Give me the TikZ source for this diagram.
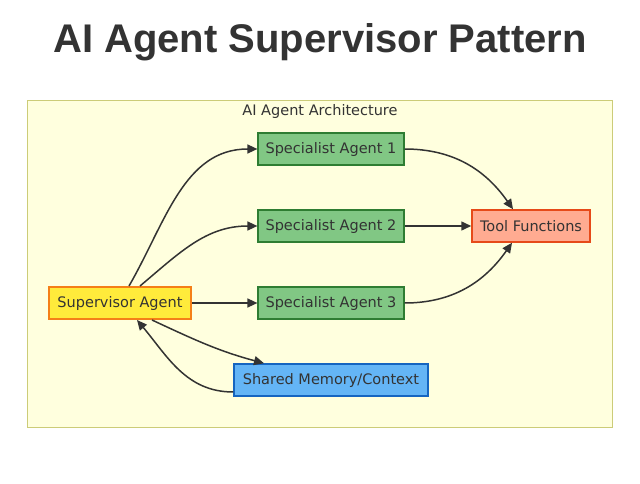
\documentclass[tikz,border=0pt]{standalone}
\usepackage{fontspec}
\usetikzlibrary{arrows.meta}
\usetikzlibrary{math}
\newfontfamily\titlefont{Liberation Sans}
\newfontfamily\boxfont{DejaVu Sans}
\definecolor{mytext}{RGB}{51,51,51}
\definecolor{clusterfill}{RGB}{255,255,222}
\definecolor{clusterline}{RGB}{204,204,120}
\definecolor{specfill}{RGB}{129,199,132}
\definecolor{specline}{RGB}{46,125,50}
\definecolor{toolfill}{RGB}{255,171,145}
\definecolor{toolline}{RGB}{230,74,25}
\definecolor{supfill}{RGB}{255,235,59}
\definecolor{supline}{RGB}{245,127,23}
\definecolor{memfill}{RGB}{100,181,246}
\definecolor{memline}{RGB}{21,101,192}
\tikzset{
  box/.style={draw, line width=1.2, minimum height=32, inner sep=0,
    text=mytext, font=\boxfont\fontsize{14.5}{17}\selectfont},
  spec/.style={box, fill=specfill, draw=specline, minimum width=146},
  link/.style={line width=1.5, -{Triangle[length=10,width=9]}, color=mytext},
}
\begin{document}
\begin{tikzpicture}[x=1pt,y=-1pt]
\tikzmath{
\W=640;
\H=484;
}
\useasboundingbox (0,0) rectangle (\W,\H);
\fill[white] (0,0) rectangle (\W,\H);
%title
\node[text=mytext, font=\titlefont\bfseries\fontsize{40}{46}\selectfont] (title) at (320,42) {AI Agent Supervisor Pattern};
%cluster
\draw[fill=clusterfill, draw=clusterline, line width=1] (27,101) rectangle (612,427);
\node[text=mytext, font=\boxfont\fontsize{14.5}{17}\selectfont] (arch) at (320,112) {AI Agent Architecture};
%nodes
\node[box, fill=supfill, draw=supline, line width=2, minimum width=142] (sup) at (120,303) {Supervisor Agent};
\node[spec] (s1) at (331,149) {Specialist Agent 1};
\node[spec] (s2) at (331,226) {Specialist Agent 2};
\node[spec] (s3) at (331,303) {Specialist Agent 3};
\node[box, fill=toolfill, draw=toolline, line width=1.5, minimum width=118] (tool) at (531,226) {Tool Functions};
\node[box, fill=memfill, draw=memline, line width=1.5, minimum width=194] (mem) at (331,380) {Shared Memory/Context};
%links
\draw[link] ([xshift=9]sup.north) to[out=60,in=180] (s1.west);
\draw[link] ([xshift=20]sup.north) to[out=40,in=180] (s2.west);
\draw[link] (sup) -- (s3);
\draw[link] ([xshift=32]sup.south) to[out=-25,in=165] ([xshift=-67]mem.north);
\draw[link] ([yshift=-12]mem.west) to[out=180,in=-50] ([xshift=17]sup.south);
\draw[link] (s1.east) to[out=0,in=125] ([xshift=-18]tool.north);
\draw[link] (s2) -- (tool);
\draw[link] (s3.east) to[out=0,in=-125] ([xshift=-19]tool.south);
\end{tikzpicture}
\end{document}
